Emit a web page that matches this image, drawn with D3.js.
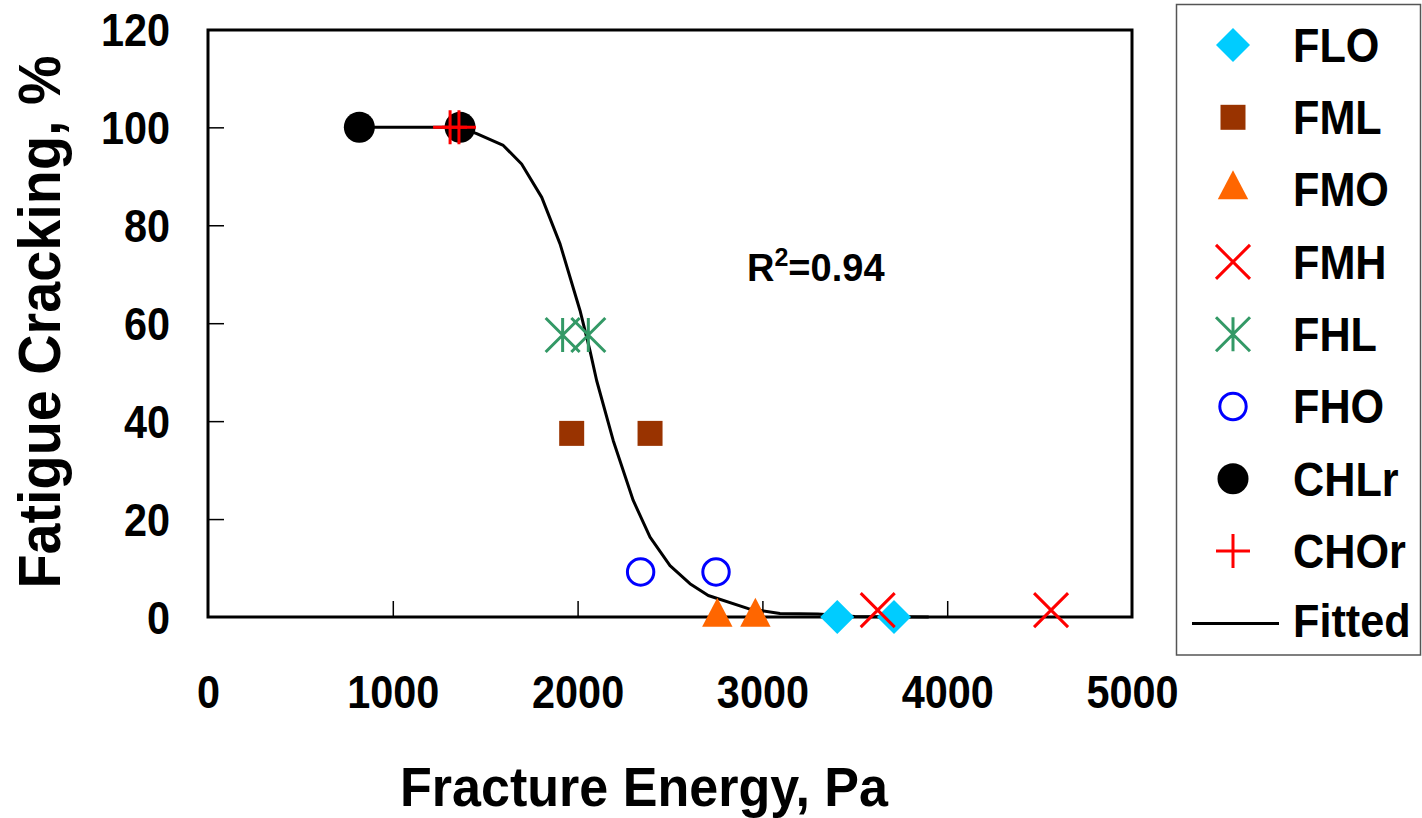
<!DOCTYPE html>
<html>
  <head>
    <meta charset="utf-8">
    <title>Fatigue Cracking vs Fracture Energy</title>

    <!-- load D3 library -->
    <script src="https://cdnjs.cloudflare.com/ajax/libs/d3/7.8.5/d3.min.js"></script>

    <style>
 body {
     margin: 0;
     background: white;
 }

 text {
     font-family: "Liberation Sans", Arial, sans-serif;
     font-weight: bold;
     fill: black;
 }

 .tick line {
     stroke: black;
     stroke-width: 1.5px;
 }
    </style>
  </head>

  <body>
    <svg id="viz" width="1422" height="818"></svg>

    <script>

// data

var xTicks = [0, 1000, 2000, 3000, 4000, 5000];
var yTicks = [0, 20, 40, 60, 80, 100, 120];

var seriesNames = ["FLO", "FML", "FMO", "FMH", "FHL", "FHO", "CHLr", "CHOr"];

var floX  = [3405, 3712];  var floY  = [0, 0];
var fmlX  = [1968, 2392];  var fmlY  = [37.5, 37.5];
var fmoX  = [2756, 2962];  var fmoY  = [0, 0];
var fmhX  = [3624, 4562];  var fmhY  = [1.4, 1.4];
var fhlX  = [1919, 2058];  var fhlY  = [57.6, 57.6];
var fhoX  = [2341, 2749];  var fhoY  = [9.2, 9.2];
var chlrX = [819, 1364];   var chlrY = [100, 100];
var chorX = [1310, 1358];  var chorY = [100, 100];

var fittedX = [819, 1364, 1454, 1598, 1697, 1806, 1905, 2013, 2067, 2103, 2193,
               2301, 2392, 2500, 2608, 2707, 2924, 3095, 3300, 3500, 3900];
var fittedY = [100, 100, 98.7, 96.3, 92.5, 85.7, 76.2, 62.6, 54.4, 48.3, 36.0,
               23.8, 16.3, 10.5, 6.8, 4.4, 1.7, 0.7, 0.6, 0.1, 0];


window.addEventListener("load", run);

function run () {

    var svg = d3.select("#viz");

    // plot frame in pixels
    var left = 208, right = 1132, top = 30, bottom = 617;

    var x = d3.scaleLinear().domain([0, 5000]).range([left, right]);
    var y = d3.scaleLinear().domain([0, 120]).range([bottom, top - 0.6]);

    // marker styles per series
    var styles = {
	FLO:  { shape: "diamond",  color: "#00ccff" },
	FML:  { shape: "square",   color: "#993300" },
	FMO:  { shape: "triangle", color: "#ff6600" },
	FMH:  { shape: "x",        color: "#ff0000" },
	FHL:  { shape: "star",     color: "#339966" },
	FHO:  { shape: "ring",     color: "#0000ff" },
	CHLr: { shape: "circle",   color: "#000000" },
	CHOr: { shape: "plus",     color: "#ff0000" }
    };

    var xs = { FLO: floX, FML: fmlX, FMO: fmoX, FMH: fmhX, FHL: fhlX, FHO: fhoX, CHLr: chlrX, CHOr: chorX };
    var ys = { FLO: floY, FML: fmlY, FMO: fmoY, FMH: fmhY, FHL: fhlY, FHO: fhoY, CHLr: chlrY, CHOr: chorY };

    // axes: ticks point inward, labels squeezed a bit horizontally
    var sx = 0.9;

    var gx = svg.append("g")
	.attr("transform", "translate(0," + bottom + ")")
	.call(d3.axisBottom(x).tickValues(xTicks).tickFormat(d3.format("d"))
	      .tickSizeInner(-16).tickSizeOuter(0).tickPadding(58));
    gx.select(".domain").remove();
    gx.selectAll("text")
	.attr("fill", "black")
	.style("font-size", "46px")
	.attr("dy", "0.71em")
	.attr("transform", "scale(" + sx + ",1)");

    var gy = svg.append("g")
	.attr("transform", "translate(" + left + ",0)")
	.call(d3.axisLeft(y).tickValues(yTicks).tickSizeInner(-16).tickSizeOuter(0).tickPadding(38));
    gy.select(".domain").remove();
    gy.selectAll("text")
	.attr("fill", "black")
	.style("font-size", "46px")
	.attr("x", -38 / sx)
	.attr("dy", "0.36em")
	.attr("transform", "scale(" + sx + ",1)");
    gy.selectAll(".tick").filter(function(d) { return d === 0 || d === 120; }).select("line").remove();
    gx.selectAll(".tick").filter(function(d) { return d === 0 || d === 5000; }).select("line").remove();

    // frame
    svg.append("rect")
	.attr("x", left)
	.attr("y", top)
	.attr("width", right - left)
	.attr("height", bottom - top)
	.attr("fill", "none")
	.attr("stroke", "black")
	.attr("stroke-width", 3);

    // fitted curve
    var line = d3.line()
	.x(function(d) { return x(d[0]); })
	.y(function(d) { return y(d[1]); });

    svg.append("path")
	.datum(d3.zip(fittedX, fittedY))
	.attr("d", line)
	.attr("fill", "none")
	.attr("stroke", "black")
	.attr("stroke-width", 3)
	.attr("stroke-linejoin", "round");

    // data points
    seriesNames.forEach(function(name) {
	var pts = d3.zip(xs[name], ys[name]);
	svg.selectAll(null)
	    .data(pts)
	    .enter()
	    .each(function(d) { drawMarker(svg, styles[name], x(d[0]), y(d[1])); });
    });

    // R squared note
    var r2 = svg.append("text")
	.attr("x", 747)
	.attr("y", 281)
	.style("font-size", "38px");
    r2.append("tspan").text("R");
    r2.append("tspan").attr("dy", -15).style("font-size", "25px").text("2");
    r2.append("tspan").attr("dy", 15).text("=0.94");

    // axis titles
    squeezedText(svg, "Fracture Energy, Pa", 644, 806, 0.93, 56, 0, "middle");
    squeezedText(svg, "Fatigue Cracking, %", 60, 322, 0.93, 60, -90, "middle");

    // legend
    svg.append("rect")
	.attr("x", 1176.5)
	.attr("y", 4.5)
	.attr("width", 244)
	.attr("height", 650.5)
	.attr("fill", "white")
	.attr("stroke", "#555")
	.attr("stroke-width", 1.5);

    var rowStep = 72.3;
    seriesNames.forEach(function(name, i) {
	var cy = 45 + i * rowStep;
	drawMarker(svg, styles[name], 1233, cy);
	squeezedText(svg, name, 1293, cy + 16.7, 0.9, 48, 0, "start");
    });

    var fy = 45 + seriesNames.length * rowStep;
    svg.append("line")
	.attr("x1", 1192).attr("x2", 1279)
	.attr("y1", fy).attr("y2", fy)
	.attr("stroke", "black")
	.attr("stroke-width", 3);
    squeezedText(svg, "Fitted", 1293, fy + 13.5, 0.92, 47, 0, "start");
}


function squeezedText (svg, str, x, y, sx, size, rot, anchor) {
    svg.append("text")
	.attr("transform", "translate(" + x + "," + y + ") rotate(" + rot + ") scale(" + sx + ",1)")
	.style("font-size", size + "px")
	.style("text-anchor", anchor)
	.text(str);
}


function drawMarker (svg, st, cx, cy) {

    var g = svg.append("g").attr("transform", "translate(" + cx + "," + cy + ")");
    var h = 17;

    if (st.shape === "diamond") {
	g.append("path")
	    .attr("d", d3.symbol(d3.symbolSquare, 580)())
	    .attr("transform", "rotate(45)")
	    .attr("fill", st.color);
    } else if (st.shape === "square") {
	g.append("path")
	    .attr("d", d3.symbol(d3.symbolSquare, 625)())
	    .attr("fill", st.color);
    } else if (st.shape === "triangle") {
	g.append("path")
	    .attr("d", d3.symbol(d3.symbolTriangle, 400)())
	    .attr("transform", "scale(1,1.1)")
	    .attr("fill", st.color);
    } else if (st.shape === "circle") {
	g.append("circle").attr("r", 15.5).attr("fill", st.color);
    } else if (st.shape === "ring") {
	g.append("circle").attr("r", 13.2)
	    .attr("fill", "none")
	    .attr("stroke", st.color)
	    .attr("stroke-width", 3);
    } else {
	var d = "";
	if (st.shape === "x" || st.shape === "star")
	    d += "M" + (-h) + "," + (-h) + "L" + h + "," + h + "M" + (-h) + "," + h + "L" + h + "," + (-h);
	if (st.shape === "star")
	    d += "M0," + (-h) + "L0," + h;
	if (st.shape === "plus")
	    d += "M" + (-h) + ",0L" + h + ",0M0," + (-h) + "L0," + h;
	g.append("path")
	    .attr("d", d)
	    .attr("fill", "none")
	    .attr("stroke", st.color)
	    .attr("stroke-width", 3);
    }
}

    </script>
  </body>
</html>
